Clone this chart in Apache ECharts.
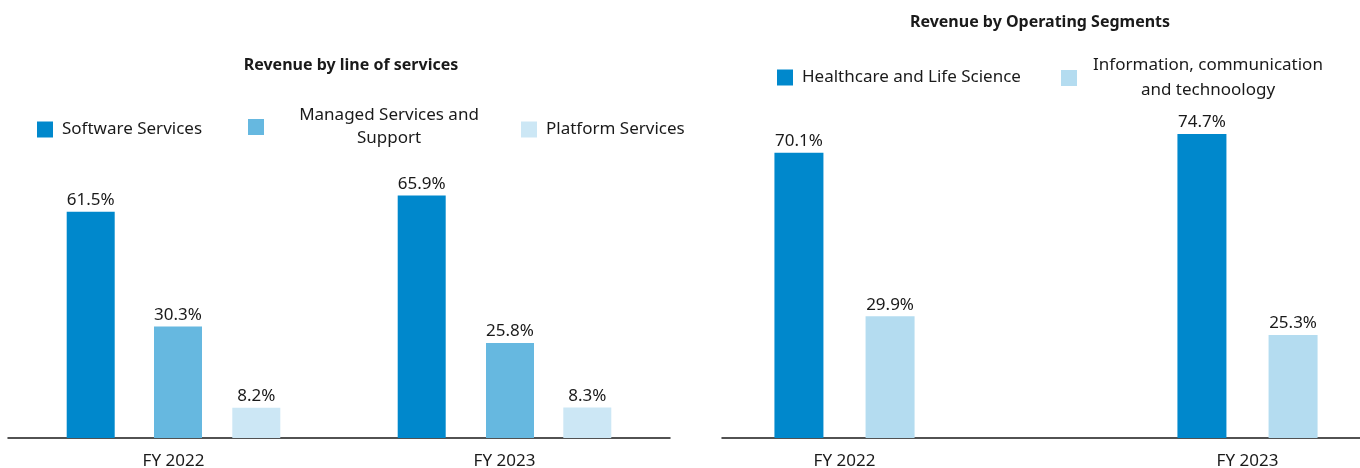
<!DOCTYPE html>
<html>
<head>
<meta charset="utf-8">
<script src="https://cdn.jsdelivr.net/npm/echarts@6/dist/echarts.min.js"></script>
<style>
  html, body { margin: 0; padding: 0; background: #fff; }
  #chart { width: 1360px; height: 468px; }
</style>
</head>
<body>
<div id="chart"></div>
<script>
// 数据
const years = ['FY 2022', 'FY 2023']
const software = [61.5, 65.9]
const managed = [30.3, 25.8]
const platform = [8.2, 8.3]
const healthcare = [70.1, 74.7]
const ict = [29.9, 25.3]

const FONT = 'Noto Sans'
const DARK = '#1a1a1a'

const chart = echarts.init(document.getElementById('chart'))

function barLabel() {
  return {
    show: true,
    position: 'top',
    distance: 3,
    color: DARK,
    fontFamily: FONT,
    fontSize: 17,
    formatter: (p) => p.value.toFixed(1) + '%'
  }
}

function legendItem(name, left, top, extra) {
  return Object.assign({
    data: [name],
    left: left,
    top: top,
    padding: 0,
    icon: 'rect',
    itemWidth: 16,
    itemHeight: 16,
    selectedMode: false,
    textStyle: { color: DARK, fontFamily: FONT, fontSize: 17, padding: [0, 0, 0, 4] }
  }, extra || {})
}

function hiddenY(idx) {
  return { type: 'value', gridIndex: idx, min: 0, max: 100, show: false }
}

chart.setOption({
  animation: false,
  title: [
    {
      text: 'Revenue by line of services',
      left: 346, top: 52, textAlign: 'center',
      textStyle: { fontFamily: FONT, fontSize: 16, fontWeight: 'bold', color: DARK }
    },
    {
      text: 'Revenue by Operating Segments',
      left: 1035, top: 9, textAlign: 'center',
      textStyle: { fontFamily: FONT, fontSize: 16, fontWeight: 'bold', color: DARK }
    }
  ],
  legend: [
    legendItem('Software Services', 37, 121),
    legendItem('Managed Services and Support', 248, 107, {
      formatter: () => '{c|Managed Services and}\n{c|Support}',
      textStyle: {
        color: DARK, fontFamily: FONT, fontSize: 17,
        rich: { c: { width: 240, align: 'center', lineHeight: 23, fontSize: 17, fontFamily: FONT, color: DARK } }
      }
    }),
    legendItem('Platform Services', 521, 121),
    legendItem('Healthcare and Life Science', 777, 69),
    legendItem('Information, communication and technoology', 1061, 57, {
      formatter: () => '{c|Information, communication}\n{c|and technoology}',
      textStyle: {
        color: DARK, fontFamily: FONT, fontSize: 17,
        rich: { c: { width: 252, align: 'center', lineHeight: 25, fontSize: 17, fontFamily: FONT, color: DARK } }
      }
    })
  ],
  grid: [
    { left: 8, width: 662, top: 70, height: 368, outerBoundsMode: 'none' },   // 左图 S / P
    { left: 12, width: 664, top: 70, height: 368, outerBoundsMode: 'none' },  // 左图 M（略偏右）
    { left: 643, width: 806, top: 31, height: 407, outerBoundsMode: 'none' }, // 右图柱子
    { left: 722, right: 0, top: 31, height: 407, outerBoundsMode: 'none' }    // 右图轴线
  ],
  xAxis: [
    {
      type: 'category', gridIndex: 0, data: years,
      axisTick: { show: false },
      axisLine: { lineStyle: { color: DARK, width: 1.5 } },
      axisLabel: { color: DARK, fontFamily: FONT, fontSize: 17, margin: 15 }
    },
    { type: 'category', gridIndex: 1, data: years, show: false },
    {
      type: 'category', gridIndex: 2, data: years,
      axisTick: { show: false },
      axisLine: { show: false },
      axisLabel: { color: DARK, fontFamily: FONT, fontSize: 17, margin: 15 }
    },
    {
      type: 'category', gridIndex: 3, data: years,
      axisTick: { show: false },
      axisLabel: { show: false },
      axisLine: { lineStyle: { color: DARK, width: 1.5 } }
    }
  ],
  yAxis: [hiddenY(0), hiddenY(1), hiddenY(2), hiddenY(3)],
  series: [
    {
      name: 'Software Services', type: 'bar', xAxisIndex: 0, yAxisIndex: 0,
      data: software, barWidth: 48, barGap: '245%',
      itemStyle: { color: '#0088CC' }, label: barLabel()
    },
    {
      name: 'Platform Services', type: 'bar', xAxisIndex: 0, yAxisIndex: 0,
      data: platform, barWidth: 48, barGap: '245%',
      itemStyle: { color: '#CCE7F5' }, label: barLabel()
    },
    {
      name: 'Managed Services and Support', type: 'bar', xAxisIndex: 1, yAxisIndex: 1,
      data: managed, barWidth: 48,
      itemStyle: { color: '#66B8E0' }, label: barLabel()
    },
    {
      name: 'Healthcare and Life Science', type: 'bar', xAxisIndex: 2, yAxisIndex: 2,
      data: healthcare, barWidth: 49, barGap: '86%',
      itemStyle: { color: '#0088CC' }, label: barLabel()
    },
    {
      name: 'Information, communication and technoology', type: 'bar', xAxisIndex: 2, yAxisIndex: 2,
      data: ict, barWidth: 49, barGap: '86%',
      itemStyle: { color: '#B4DCF0' }, label: barLabel()
    }
  ]
})
</script>
</body>
</html>
